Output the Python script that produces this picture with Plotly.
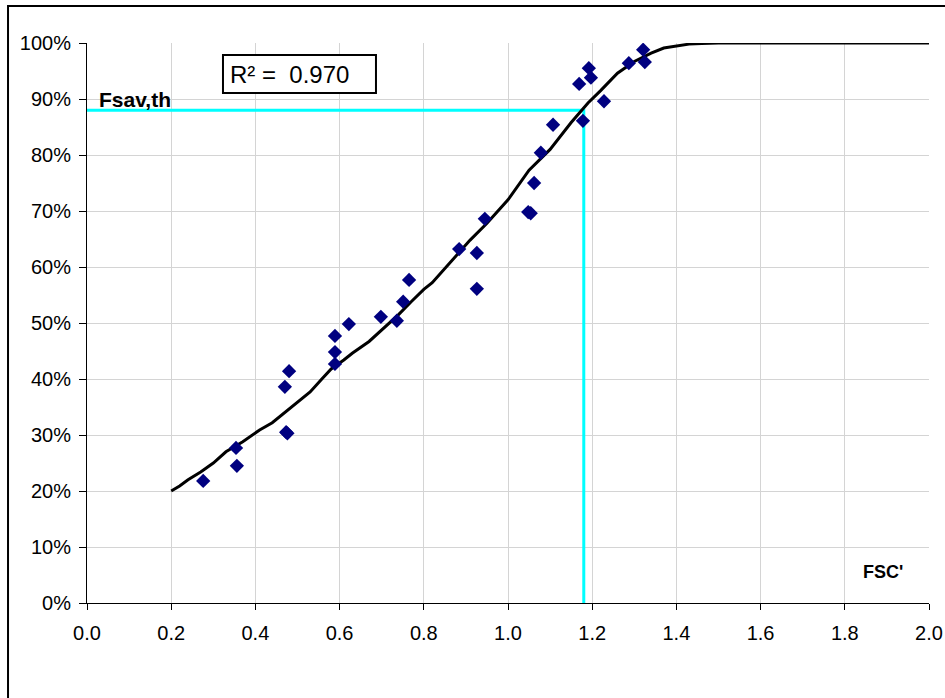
import plotly.graph_objects as go

# Measured points (FSC', Fsav,th)
pts_x = [0.276, 0.354, 0.356, 0.480, 0.470, 0.473, 0.476, 0.589, 0.589, 0.589, 0.622, 0.698, 0.736,
         0.751, 0.765, 0.884, 0.945, 0.926, 0.926, 1.048, 1.054, 1.062, 1.078, 1.107, 1.178,
         1.169, 1.192, 1.197, 1.228, 1.287, 1.321, 1.325]
pts_y = [0.218, 0.277, 0.245, 0.414, 0.386, 0.305, 0.303, 0.477, 0.448, 0.427, 0.498, 0.511, 0.504,
         0.538, 0.577, 0.632, 0.686, 0.625, 0.561, 0.698, 0.696, 0.750, 0.804, 0.854, 0.861,
         0.927, 0.955, 0.938, 0.896, 0.964, 0.988, 0.966]

# Theoretical curve
curve_x = [0.20, 0.22, 0.24, 0.27, 0.30, 0.33, 0.37, 0.41, 0.44, 0.47, 0.50, 0.53, 0.56, 0.58,
           0.61, 0.63, 0.67, 0.70, 0.74, 0.77, 0.80, 0.82, 0.86, 0.91, 0.95, 1.00, 1.05, 1.10,
           1.15, 1.19, 1.22, 1.26, 1.30, 1.34, 1.37, 1.40, 1.43, 1.46, 1.50, 1.60, 1.80, 2.00]
curve_y = [0.200, 0.209, 0.220, 0.234, 0.250, 0.270, 0.288, 0.309, 0.322, 0.340, 0.358, 0.377,
           0.402, 0.418, 0.434, 0.446, 0.467, 0.487, 0.515, 0.538, 0.560, 0.572, 0.605, 0.648,
           0.678, 0.720, 0.773, 0.810, 0.858, 0.893, 0.915, 0.946, 0.967, 0.982, 0.991, 0.995,
           0.998, 0.999, 1.000, 1.000, 1.000, 1.000]

# Reading guide
guide_x = [0.0, 1.18, 1.18]
guide_y = [0.88, 0.88, 0.0]

x_ticks = [0.0, 0.2, 0.4, 0.6, 0.8, 1.0, 1.2, 1.4, 1.6, 1.8, 2.0]
y_ticks = [0.0, 0.1, 0.2, 0.3, 0.4, 0.5, 0.6, 0.7, 0.8, 0.9, 1.0]

FONT = "Liberation Sans, Arial, sans-serif"

fig = go.Figure()
fig.add_trace(go.Scatter(x=guide_x, y=guide_y, mode="lines",
                         line=dict(color="#00FFFF", width=3), hoverinfo="skip", showlegend=False))
fig.add_trace(go.Scatter(x=curve_x, y=curve_y, mode="lines",
                         line=dict(color="black", width=3), showlegend=False))
fig.add_trace(go.Scatter(x=pts_x, y=pts_y, mode="markers",
                         marker=dict(symbol="diamond", size=11, color="#000080",
                                     line=dict(width=0)), showlegend=False))

fig.update_layout(
    width=945, height=698,
    margin=dict(l=87, r=16, t=43, b=95),
    paper_bgcolor="white", plot_bgcolor="white",
    font=dict(family=FONT, color="black", size=20),
    xaxis=dict(range=[0, 2.0], tickvals=x_ticks, ticktext=[f"{v:.1f}" for v in x_ticks],
               showgrid=True, gridcolor="#d4d4d4", gridwidth=1,
               showline=True, linecolor="black", linewidth=1, automargin=False,
               ticks="outside", ticklen=6, tickcolor="black", zeroline=False,
               tickfont=dict(size=20), ticklabelstandoff=6),
    yaxis=dict(range=[0, 1.0], tickvals=y_ticks, tickformat=".0%",
               showgrid=True, gridcolor="#d4d4d4", gridwidth=1,
               showline=True, linecolor="black", linewidth=1, automargin=False,
               ticks="outside", ticklen=7, tickcolor="black", zeroline=False,
               tickfont=dict(size=20), ticklabelstandoff=4),
    shapes=[
        dict(type="rect", xref="paper", yref="paper", x0=-0.0938, x1=1.05, y0=-0.3, y1=1.066,
             line=dict(color="black", width=2), fillcolor="rgba(0,0,0,0)", layer="below"),
        dict(type="rect", xref="paper", yref="paper", x0=0.1615, x1=0.3432, y0=0.9107, y1=0.9786,
             line=dict(color="black", width=2), fillcolor="white"),
    ],
    annotations=[
        dict(text="<b>Fsav,th</b>", xref="paper", yref="paper", x=0.0119, y=0.899,
             xanchor="left", yanchor="middle", showarrow=False, font=dict(size=21)),
        dict(text="R² =  0.970", xref="paper", yref="paper", x=0.1675, y=0.9446,
             xanchor="left", yanchor="middle", showarrow=False, font=dict(size=24)),
        dict(text="<b>FSC'</b>", xref="paper", yref="paper", x=0.9715, y=0.0554,
             xanchor="right", yanchor="middle", showarrow=False, font=dict(size=18)),
    ],
)

fig.write_html("out.html", config={"displayModeBar": False},
               post_script="document.body.style.margin='0px';")
